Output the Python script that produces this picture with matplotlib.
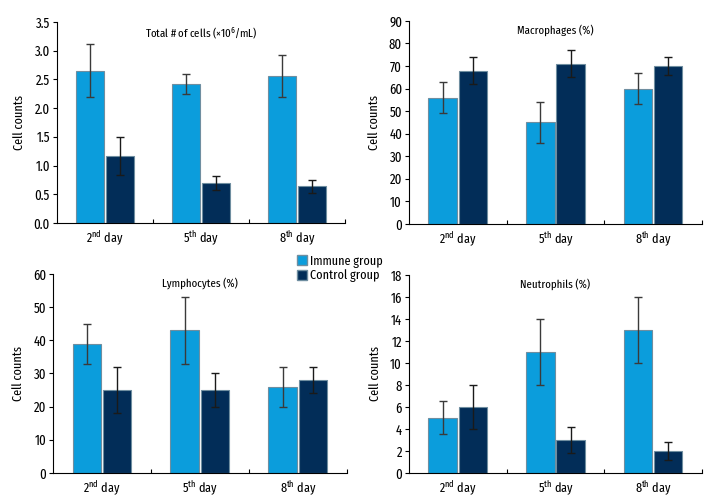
import matplotlib
matplotlib.use("Agg")
import matplotlib.pyplot as plt
import numpy as np
from matplotlib.patches import Patch

FONT = "Fira Sans Extra Condensed"
plt.rcParams["font.family"] = [FONT, "DejaVu Sans"]
plt.rcParams["mathtext.fontset"] = "custom"
plt.rcParams["mathtext.rm"] = FONT
plt.rcParams["mathtext.it"] = FONT

days = ["2$^{\\mathrm{nd}}$ day", "5$^{\\mathrm{th}}$ day", "8$^{\\mathrm{th}}$ day"]

total_immune = [2.65, 2.42, 2.56]
total_immune_err = [0.46, 0.18, 0.36]
total_control = [1.17, 0.69, 0.64]
total_control_err = [0.33, 0.12, 0.11]

macro_immune = [56, 45, 60]
macro_immune_err = [7, 9, 7]
macro_control = [68, 71, 70]
macro_control_err = [6, 6, 4]

lymph_immune = [39, 43, 26]
lymph_immune_err = [6, 10, 6]
lymph_control = [25, 25, 28]
lymph_control_err = [7, 5, 4]

neut_immune = [5, 11, 13]
neut_immune_err = [1.5, 3, 3]
neut_control = [6, 3, 2]
neut_control_err = [2, 1.2, 0.8]

IMMUNE = "#0b9ddc"
CONTROL = "#022d58"
EDGE = "#6f8ea0"

panels = [
    ("Total # of cells (\u00d710$^{6}$/mL)", total_immune, total_immune_err,
     total_control, total_control_err, (0, 3.5), np.arange(0, 3.51, 0.5), "%.1f",
     [0.079, 0.5575, 0.400, 0.399]),
    ("Macrophages (%)", macro_immune, macro_immune_err,
     macro_control, macro_control_err, (0, 90), np.arange(0, 91, 10), "%d",
     [0.568, 0.5556, 0.407, 0.403]),
    ("Lymphocytes (%)", lymph_immune, lymph_immune_err,
     lymph_control, lymph_control_err, (0, 60), np.arange(0, 61, 10), "%d",
     [0.0736, 0.0615, 0.408, 0.395]),
    ("Neutrophils (%)", neut_immune, neut_immune_err,
     neut_control, neut_control_err, (0, 18), np.arange(0, 19, 2), "%d",
     [0.568, 0.0615, 0.407, 0.393]),
]

fig = plt.figure(figsize=(7.2, 5.04), dpi=100)
x = np.arange(len(days))
w = 0.29

for title, imm, imm_err, ctl, ctl_err, ylim, yticks, fmt, rect in panels:
    ax = fig.add_axes(rect)
    ax.bar(x - 0.155, imm, w, color=IMMUNE, edgecolor=EDGE, linewidth=0.8)
    ax.bar(x + 0.155, ctl, w, color=CONTROL, edgecolor=EDGE, linewidth=0.8)
    ax.errorbar(x - 0.155, imm, yerr=imm_err, fmt="none", ecolor="#3a3a3a",
                elinewidth=1, capsize=3, capthick=1)
    ax.errorbar(x + 0.155, ctl, yerr=ctl_err, fmt="none", ecolor="#1a1a1a",
                elinewidth=1, capsize=3, capthick=1)
    ax.set_xlim(-0.5, 2.5)
    ax.set_ylim(*ylim)
    ax.set_yticks(yticks)
    ax.set_yticklabels([fmt % v for v in yticks])
    ax.set_xticks(x)
    ax.set_xticklabels(days, fontsize=9.5)
    ax.tick_params(axis="x", length=0, pad=5)
    ax.set_xticks([0.5, 1.5, 2.5], minor=True)
    ax.tick_params(axis="x", which="minor", direction="in", length=3, width=0.8)
    ax.tick_params(axis="y", direction="out", length=3, width=0.8, labelsize=10,
                   pad=2)
    for s in ["top", "right"]:
        ax.spines[s].set_visible(False)
    ax.spines["left"].set_linewidth(0.8)
    ax.spines["bottom"].set_linewidth(0.8)
    ax.set_ylabel("Cell counts", fontsize=9.5, labelpad=6)
    ax.text(0.5, 0.985, title, transform=ax.transAxes, ha="center", va="top",
            fontsize=8.5)

handles = [Patch(facecolor=IMMUNE, edgecolor=EDGE, label="Immune group"),
           Patch(facecolor=CONTROL, edgecolor=EDGE, label="Control group")]
fig.legend(handles=handles, loc="upper left", bbox_to_anchor=(0.413, 0.494),
           frameon=False, fontsize=9.5, handlelength=0.75, handleheight=0.75,
           handletextpad=0.2, labelspacing=0.12, borderpad=0, borderaxespad=0)

fig.savefig("out.png", dpi=100)
